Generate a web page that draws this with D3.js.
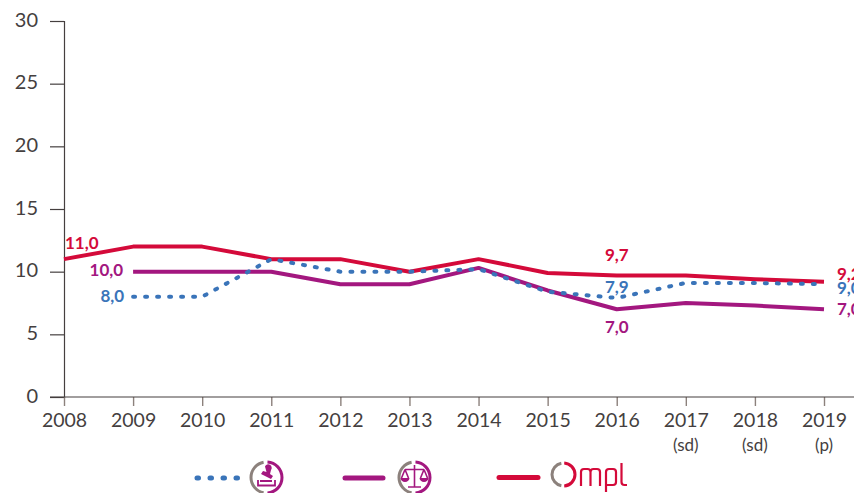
<!DOCTYPE html>
<html>
<head>
<meta charset="utf-8">
<script src="https://cdn.jsdelivr.net/npm/d3@7"></script>
<style>
  html, body { margin: 0; padding: 0; background: #fff; overflow: hidden; }
  text { font-family: Lato, "Open Sans", sans-serif; }
</style>
</head>
<body>
<div id="chart"></div>
<script>
// Values
const years = [2008, 2009, 2010, 2011, 2012, 2013, 2014, 2015, 2016, 2017, 2018, 2019];
const yearNotes = ["", "", "", "", "", "", "", "", "", "(sd)", "(sd)", "(p)"];
const yTicks = [0, 5, 10, 15, 20, 25, 30];
const redValues = [11, 12, 12, 11, 11, 10, 11, 9.9, 9.7, 9.7, 9.4, 9.2];
const purpleValues = [null, 10, 10, 10, 9, 9, 10.3, 8.5, 7, 7.5, 7.3, 7];
const blueValues = [null, 8, 8, 11, 10, 10, 10.2, 8.4, 7.9, 9.1, 9.1, 9];

const RED = "#d40a3a";
const PURPLE = "#a3177f";
const BLUE = "#3a74b9";
const GREY = "#8c817c";
const INK = "#453f3f";

// Value labels: year index, series value, text, offset from the point
const redLabels = [[0, 11, "11,0", 1, -16, "start"], [8, 9.7, "9,7", 0, -20, "middle"], [11, 9.2, "9,2", 13, -8, "start"]];
const purpleLabels = [[1, 10, "10,0", -10, -2, "end"], [8, 7, "7,0", 0, 18, "middle"], [11, 7, "7,0", 13, 0, "start"]];
const blueLabels = [[1, 8, "8,0", -9, -1, "end"], [8, 7.9, "7,9", 0, -11, "middle"], [11, 9, "9,0", 13, 4, "start"]];

const width = 854;
const height = 493;

const svg = d3.select("#chart")
    .append("svg")
    .attr("width", width)
    .attr("height", height);

const x = d3.scaleLinear().domain([2008, 2019]).range([64, 824]);
const y = d3.scaleLinear().domain([0, 30]).range([397, 21]);

// Y axis
const yAxis = svg.append("g")
    .attr("transform", "translate(64,0)")
    .call(d3.axisLeft(y).tickValues(yTicks).tickSize(14).tickPadding(12).tickFormat(d => d));
yAxis.select(".domain").attr("stroke", INK).attr("stroke-width", 1.2);
yAxis.selectAll("line").attr("stroke", INK).attr("stroke-width", 1.2);
yAxis.selectAll("text")
    .attr("fill", INK)
    .style("font-size", "20px")
    .attr("dy", "0.26em");

// X axis
const xAxis = svg.append("g")
    .attr("transform", "translate(0,397)")
    .call(d3.axisBottom(x).tickValues(years).tickSize(9).tickPadding(7).tickFormat(d => d));
xAxis.select(".domain").remove();
xAxis.append("line").attr("x1", 50).attr("x2", 854).attr("stroke", INK).attr("stroke-width", 1.2);
xAxis.selectAll(".tick line").attr("stroke", GREY).attr("stroke-width", 1.4);
xAxis.selectAll(".tick text")
    .attr("fill", INK)
    .style("font-size", "19.5px");

// Notes under the last years
svg.append("g").selectAll("text")
    .data(years)
    .enter().append("text")
    .attr("x", d => x(d))
    .attr("y", 451)
    .attr("text-anchor", "middle")
    .attr("fill", INK)
    .style("font-size", "17px")
    .text((d, i) => yearNotes[i]);

// Lines
const line = d3.line()
    .defined(d => d.v !== null)
    .x(d => x(d.year))
    .y(d => y(d.v));

function drawSeries(values, color, dash) {
    const rows = years.map((year, i) => ({ year: year, v: values[i] }));
    const path = svg.append("path")
        .datum(rows)
        .attr("d", line)
        .attr("fill", "none")
        .attr("stroke", color)
        .attr("stroke-width", 4)
        .attr("stroke-linejoin", "round");
    if (dash) {
        path.attr("stroke-dasharray", dash).attr("stroke-linecap", "round");
    }
}

drawSeries(purpleValues, PURPLE);
drawSeries(redValues, RED);
drawSeries(blueValues, BLUE, "2 10");

// Value labels
function drawLabels(labels, color) {
    svg.append("g").selectAll("text")
        .data(labels)
        .enter().append("text")
        .attr("x", d => x(years[d[0]]) + d[3])
        .attr("y", d => y(d[1]) + d[4])
        .attr("dy", "0.35em")
        .attr("text-anchor", d => d[5])
        .attr("fill", color)
        .style("font-size", "17px")
        .style("font-weight", "700")
        .text(d => d[2]);
}

drawLabels(redLabels, RED);
drawLabels(purpleLabels, PURPLE);
drawLabels(blueLabels, BLUE);

// Legend
const legend = svg.append("g");

legend.append("line")
    .attr("x1", 197).attr("x2", 238).attr("y1", 478).attr("y2", 478)
    .attr("stroke", BLUE).attr("stroke-width", 5)
    .attr("stroke-linecap", "round").attr("stroke-dasharray", "1.5 11.5");
legend.append("line")
    .attr("x1", 345).attr("x2", 383).attr("y1", 478).attr("y2", 478)
    .attr("stroke", PURPLE).attr("stroke-width", 5).attr("stroke-linecap", "round");
legend.append("line")
    .attr("x1", 499).attr("x2", 538).attr("y1", 477.5).attr("y2", 477.5)
    .attr("stroke", RED).attr("stroke-width", 5).attr("stroke-linecap", "round");

// Grey and coloured half rings of the logos
function ring(cx, cy, r, color) {
    const arc = d3.arc().innerRadius(r - 1.5).outerRadius(r + 1.5);
    legend.append("path")
        .attr("transform", `translate(${cx},${cy})`)
        .attr("d", arc({ startAngle: Math.PI * 1.06, endAngle: Math.PI * 1.94 }))
        .attr("fill", GREY);
    legend.append("path")
        .attr("transform", `translate(${cx},${cy})`)
        .attr("d", arc({ startAngle: Math.PI * 0.02, endAngle: Math.PI * 0.98 }))
        .attr("fill", color);
}

ring(266.5, 477.5, 15.5, PURPLE);
ring(414.5, 477.5, 15.5, PURPLE);
ring(563.5, 474.5, 11.5, RED);

// Stamp icon
legend.append("path")
    .attr("d", "M265 466.5 a3.5 3.5 0 1 1 6 3.5 L270 474 L273 476 L271 479 L261 474 L263 471 L266.5 472 Z")
    .attr("fill", PURPLE);
legend.append("path")
    .attr("d", "M260 481 H272 M258 480 V485.5 H275 V480")
    .attr("fill", "none").attr("stroke", PURPLE).attr("stroke-width", 1.8);

// Scales icon
legend.append("path")
    .attr("d", "M414.5 465 V487 M408 487 H421 M405 469.5 H424 M405 469.5 L401.5 478 M405 469.5 L408.5 478 M424 469.5 L420.5 478 M424 469.5 L427.5 478")
    .attr("fill", "none").attr("stroke", PURPLE).attr("stroke-width", 1.6);
legend.append("path")
    .attr("d", "M400.5 478 H409.5 A4.5 4 0 0 1 400.5 478 Z M419.5 478 H428.5 A4.5 4 0 0 1 419.5 478 Z")
    .attr("fill", PURPLE);

// "mpl" of the Ompl logo
legend.append("path")
    .attr("d", "M581 486 V472 Q581 469 584 469 H587.5 Q590.5 469 590.5 472 V486 M590.5 472 Q590.5 469 593.5 469 H597 Q600 469 600 472 V486 M606 492 V472 Q606 469 609 469 H613 Q616 469 616 472 V482 Q616 485 613 485 H606 M621.5 463 V482 Q621.5 485 624.5 485 H627")
    .attr("fill", "none").attr("stroke", RED).attr("stroke-width", 2.2);
</script>
</body>
</html>
